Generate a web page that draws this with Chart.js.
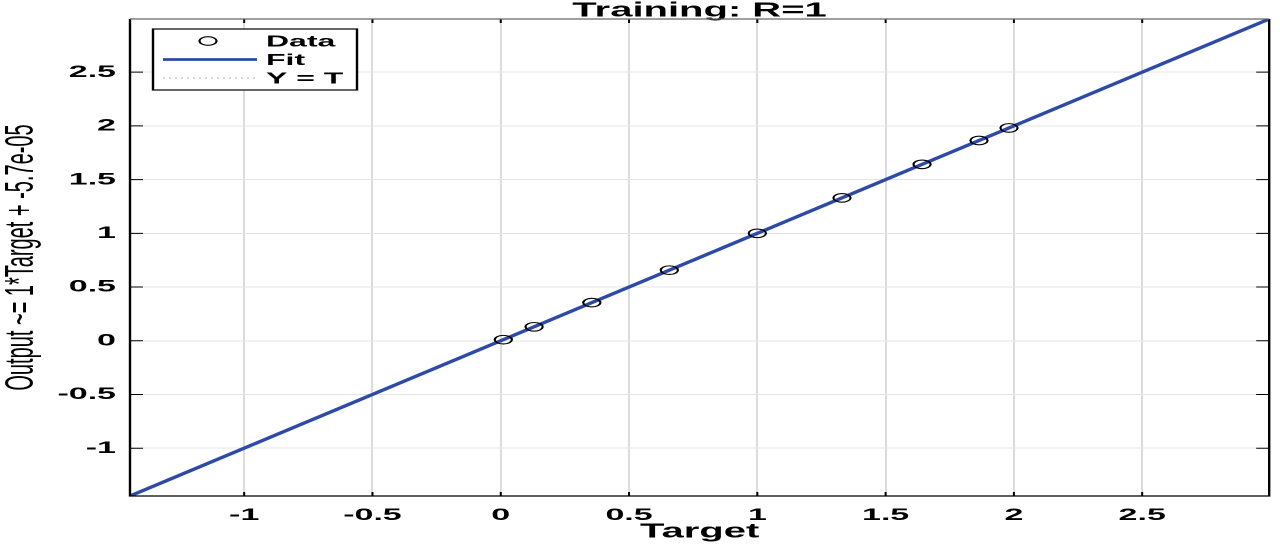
<!DOCTYPE html>
<html lang="en">
<head>
  <meta charset="UTF-8">
  <title>Training: R=1</title>
  <script src="https://cdn.jsdelivr.net/npm/chart.js"></script>
  <style>
    html, body {
      margin: 0;
      padding: 0;
      background: #fff;
      overflow: hidden;
    }
    /* the plot is drawn at half width and stretched 2x, like the original image */
    .stretch {
      width: 640px;
      height: 546px;
      transform: scaleX(2);
      transform-origin: 0 0;
    }
  </style>
</head>
<body>
  <div class="stretch"><canvas id="regChart"></canvas></div>

  <script>
    const target = [0.01, 0.13, 0.355, 0.657, 1.0, 1.33, 1.642, 1.864, 1.981];
    const output = [0.01, 0.13, 0.355, 0.657, 1.0, 1.33, 1.642, 1.864, 1.981];
    const tickValues = [-1, -0.5, 0, 0.5, 1, 1.5, 2, 2.5];
    const axisMin = -1.445;
    const axisMax = 2.995;
    const lineEnds = [axisMin, axisMax];

    const FONT = "'Liberation Sans', Arial, Helvetica, sans-serif";
    const BLUE = '#2d4aa8';

    // MATLAB-style box with inward tick marks
    const frame = {
      id: 'frame',
      afterDraw(chart) {
        const { ctx, chartArea: a, scales: { x, y } } = chart;
        ctx.save();
        ctx.strokeStyle = '#000';
        ctx.lineWidth = 1;
        ctx.beginPath();
        x.ticks.forEach(t => {
          const px = x.getPixelForValue(t.value);
          ctx.moveTo(px, a.bottom); ctx.lineTo(px, a.bottom - 4);
          ctx.moveTo(px, a.top); ctx.lineTo(px, a.top + 4);
        });
        y.ticks.forEach(t => {
          const py = y.getPixelForValue(t.value);
          ctx.moveTo(a.left, py); ctx.lineTo(a.left + 6.5, py);
          ctx.moveTo(a.right, py); ctx.lineTo(a.right - 6.5, py);
        });
        ctx.stroke();
        ctx.lineWidth = 1.2;
        ctx.beginPath();
        ctx.moveTo(a.left, a.top); ctx.lineTo(a.left, a.bottom);
        ctx.lineTo(a.right, a.bottom); ctx.lineTo(a.right, a.top);
        ctx.stroke();
        ctx.strokeStyle = '#666';
        ctx.beginPath();
        ctx.moveTo(a.left, a.top); ctx.lineTo(a.right, a.top);
        ctx.stroke();
        ctx.restore();
      }
    };

    // legend box in the upper left corner of the axes
    const boxLegend = {
      id: 'boxLegend',
      afterDraw(chart) {
        const { ctx, chartArea: a } = chart;
        const left = a.left + 11.5, top = a.top + 10, w = 102, h = 61;
        ctx.save();
        ctx.fillStyle = '#fff';
        ctx.fillRect(left, top, w, h);
        ctx.strokeStyle = '#000';
        ctx.lineWidth = 1.2;
        ctx.strokeRect(left, top, w, h);

        const rowY = [top + 12, top + 30.5, top + 49];
        chart.data.datasets.forEach((ds, i) => {
          const yy = rowY[i];
          ctx.save();
          if (ds.showLine) {
            ctx.strokeStyle = ds.borderColor;
            ctx.lineWidth = ds.borderWidth;
            ctx.setLineDash(ds.borderDash || []);
            ctx.beginPath();
            ctx.moveTo(left + 5, yy);
            ctx.lineTo(left + 52, yy);
            ctx.stroke();
          } else {
            ctx.strokeStyle = ds.borderColor;
            ctx.lineWidth = ds.borderWidth;
            ctx.beginPath();
            ctx.arc(left + 27.5, yy, ds.pointRadius, 0, Math.PI * 2);
            ctx.stroke();
          }
          ctx.restore();
          ctx.fillStyle = '#000';
          ctx.font = 'bold 16px ' + FONT;
          ctx.textBaseline = 'middle';
          ctx.textAlign = 'left';
          ctx.fillText(ds.label, left + 56.5, yy + 1);
        });
        ctx.restore();
      }
    };

    new Chart(document.getElementById('regChart'), {
      type: 'scatter',
      data: {
        datasets: [{
          label: 'Data',
          data: target.map((t, i) => ({ x: t, y: output[i] })),
          pointStyle: 'circle',
          pointRadius: 4.3,
          borderWidth: 1.1,
          borderColor: '#000',
          backgroundColor: 'rgba(0,0,0,0)'
        }, {
          label: 'Fit',
          data: lineEnds.map(v => ({ x: v, y: v })),
          showLine: true,
          pointRadius: 0,
          borderColor: BLUE,
          borderWidth: 2.8
        }, {
          label: 'Y = T',
          data: lineEnds.map(v => ({ x: v, y: v })),
          showLine: true,
          pointRadius: 0,
          borderColor: '#b0b0b0',
          borderWidth: 1,
          borderDash: [1, 2]
        }]
      },
      options: {
        responsive: true,
        maintainAspectRatio: false,
        devicePixelRatio: 2,
        animation: false,
        layout: { padding: { left: 0, right: 2, top: 0, bottom: 0 } },
        plugins: {
          legend: { display: false },
          tooltip: { enabled: false },
          title: {
            display: true,
            text: 'Training: R=1',
            fullSize: false,
            color: '#000',
            font: { family: FONT, size: 20, weight: 'bold', lineHeight: 0.6 },
            padding: { top: 5, bottom: 2 }
          }
        },
        scales: {
          x: {
            type: 'linear',
            position: 'bottom',
            min: axisMin,
            max: axisMax,
            afterBuildTicks: s => { s.ticks = tickValues.map(v => ({ value: v })); },
            afterFit: s => { s.height = 50; },
            grid: { color: '#dcdcdc', lineWidth: 1, drawTicks: false },
            border: { display: false },
            ticks: {
              padding: 9,
              color: '#000',
              autoSkip: false,
              maxRotation: 0,
              font: { family: FONT, size: 17, weight: 'bold' },
              callback: v => String(v)
            },
            title: {
              display: true,
              text: 'Target',
              color: '#000',
              font: { family: FONT, size: 20, weight: 'bold', lineHeight: 1.2 },
              padding: { top: 0, bottom: 2 }
            }
          },
          y: {
            type: 'linear',
            min: axisMin,
            max: axisMax,
            afterBuildTicks: s => { s.ticks = tickValues.map(v => ({ value: v })); },
            afterFit: s => { s.width = 65; },
            grid: { color: '#e4e4e4', lineWidth: 1, drawTicks: false },
            border: { display: false },
            ticks: {
              padding: 7,
              color: '#000',
              autoSkip: false,
              font: { family: FONT, size: 17, weight: 'bold' },
              callback: v => String(v)
            },
            title: {
              display: true,
              text: 'Output ~= 1*Target + -5.7e-05',
              color: '#000',
              font: { family: FONT, size: 20, weight: 'normal', lineHeight: 1 },
              padding: { top: 1, bottom: 0 }
            }
          }
        }
      },
      plugins: [frame, boxLegend]
    });
  </script>
</body>
</html>
